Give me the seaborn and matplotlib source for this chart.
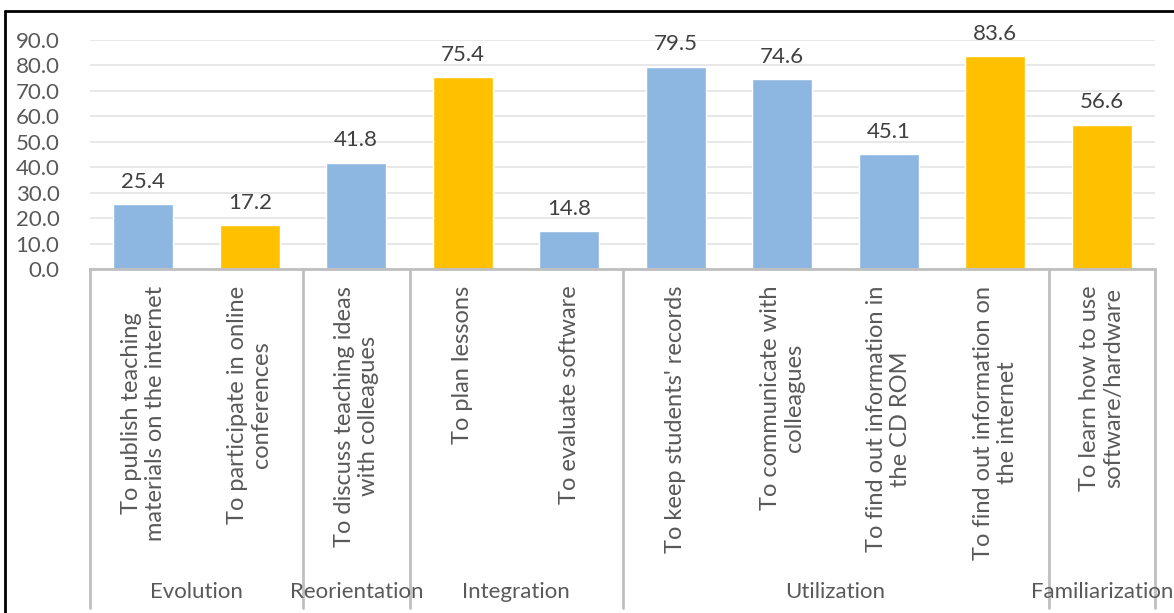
import matplotlib
matplotlib.use("Agg")
import matplotlib.pyplot as plt
import matplotlib.transforms as mtransforms
from matplotlib.lines import Line2D
import seaborn as sns
import pandas as pd

categories = [
    "To publish teaching\nmaterials on the internet",
    "To participate in online\nconferences",
    "To discuss teaching ideas\nwith colleagues",
    "To plan lessons",
    "To evaluate software",
    "To keep students' records",
    "To communicate with\ncolleagues",
    "To find out information in\nthe CD ROM",
    "To find out information on\nthe internet",
    "To learn how to use\nsoftware/hardware",
]
values = [25.4, 17.2, 41.8, 75.4, 14.8, 79.5, 74.6, 45.1, 83.6, 56.6]
highlight = ["no", "yes", "no", "yes", "no", "no", "no", "no", "yes", "yes"]
groups = ["Evolution", "Reorientation", "Integration", "Utilization", "Familiarization"]
group_sizes = [2, 1, 2, 4, 1]
yticks = [0, 10, 20, 30, 40, 50, 60, 70, 80, 90]

sns.set_theme(style="white")
plt.rcParams["font.family"] = ["Lato", "DejaVu Sans"]

W, H = 1174, 613
fig = plt.figure(figsize=(W / 100, H / 100), dpi=100)
ax = fig.add_axes([90 / W, 1 - 269 / H, (1155 - 90) / W, (269 - 40) / H])

df = pd.DataFrame({"cat": categories, "val": values, "hl": highlight})
sns.barplot(data=df, x="cat", y="val", hue="hl", order=categories,
            palette={"no": "#8DB7E0", "yes": "#FFC000"}, dodge=False,
            legend=False, width=0.56, ax=ax, saturation=1)

ax.set_ylim(0, 90)
ax.set_xlim(-0.5, len(categories) - 0.5)
ax.set_yticks(yticks)
ax.set_yticklabels([f"{v:.1f}" for v in yticks], color="#595959", fontsize=16)
ax.tick_params(axis="y", length=0, pad=22)
ax.set_ylabel("")
ax.set_xlabel("")
ax.yaxis.grid(True, color="#E6E6E6", linewidth=1.3)
ax.set_axisbelow(True)
for s in ["left", "right", "top"]:
    ax.spines[s].set_visible(False)
ax.spines["bottom"].set_color("#BFBFBF")
ax.spines["bottom"].set_linewidth(2)

ax.set_xticks(range(len(categories)))
ax.set_xticklabels(categories, rotation=90, ha="center", va="top",
                   multialignment="center", color="#595959", fontsize=17,
                   linespacing=1.15)
ax.tick_params(axis="x", length=0, pad=12)

for i, v in enumerate(values):
    ax.annotate(f"{v:.1f}", (i, v), xytext=(0, 9), textcoords="offset points",
                ha="center", va="bottom", fontsize=16, color="#404040",
                annotation_clip=False)

trans = mtransforms.blended_transform_factory(ax.transData, ax.transAxes)
ax_h = 269 - 40
y_bottom = -(608 - 269) / ax_h
y_label = -(592 - 269) / ax_h
start = -0.5
bounds = [start]
for g, n in zip(groups, group_sizes):
    end = start + n
    ax.text((start + end) / 2, y_label, g, transform=trans, ha="center",
            va="center", fontsize=16, color="#595959")
    bounds.append(end)
    start = end
for b in bounds:
    ax.add_line(Line2D([b, b], [0, y_bottom], transform=trans, color="#BFBFBF",
                       linewidth=2, clip_on=False))

# figure border
fig.add_artist(Line2D([5 / W, 1.0], [1 - 11 / H, 1 - 11 / H], color="black", linewidth=2,
                      transform=fig.transFigure))
fig.add_artist(Line2D([5 / W, 5 / W], [0, 1 - 11 / H], color="black", linewidth=2,
                      transform=fig.transFigure))

fig.savefig("out.png", dpi=100)
